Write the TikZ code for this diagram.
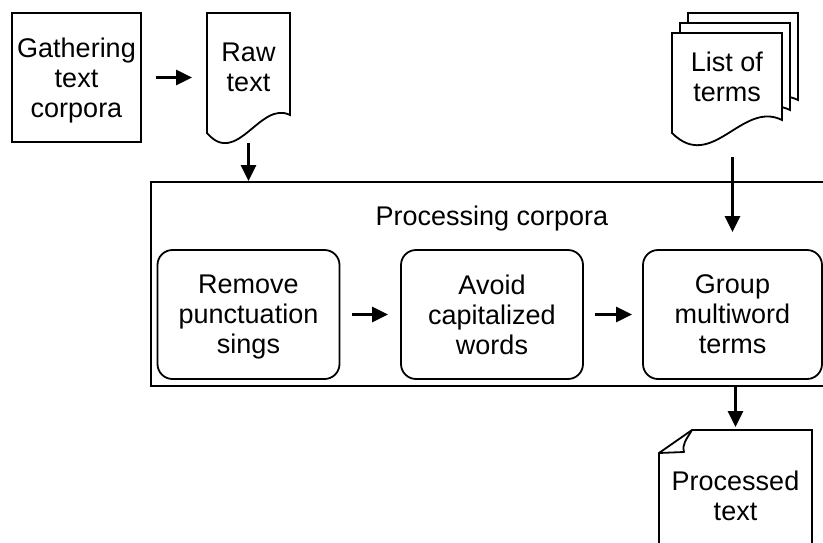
\documentclass[tikz,border=0pt]{standalone}
\usepackage{fontspec}
\setmainfont{Liberation Sans}
\usetikzlibrary{arrows.meta,calc,backgrounds}

\begin{document}
\begin{tikzpicture}[
        x=1pt, y=-1pt,
        font=\fontsize{27}{30}\selectfont,
        line width=1.8pt,
        plainbox/.style={rectangle, draw=black, minimum width=129pt, minimum height=129pt, text depth=0pt, align=center},
        stepbox/.style={rectangle, draw=black, rounded corners=15pt, minimum width=182pt, minimum height=129pt, text depth=0pt, align=center},
        docnode/.style={rectangle, inner sep=0pt, outer sep=0pt, align=center},
        docline/.style={draw=black, fill=white, line width=1.8pt},
        flow/.style={line width=2.8pt, -{Triangle[length=16pt,width=15pt]}},
    ]
        \useasboundingbox (0,0) rectangle (823,542);
        \clip (0,0) rectangle (823,542);

        %Nodes
        \node[plainbox] (gather) at (76.5,77.5) {Gathering\\text\\corpora};
        \node[docnode, minimum width=83pt, minimum height=108pt] (raw) at (248.5,67) {Raw\\text};
        \node[docnode, minimum width=110pt, minimum height=88pt] (terms) at (727,77) {List of\\terms};

        \node[rectangle, draw=black, minimum width=700pt, minimum height=204pt] (proc) at (501,284) {};
        \node (proclbl) at (492,219) {Processing corpora};

        \node[stepbox] (remove) at (248.5,314.5) {Remove\\punctuation\\sings};
        \node[stepbox] (avoid) at (492,314.5) {Avoid\\capitalized\\words};
        \node[stepbox, minimum width=179pt] (group) at (732.5,314.5) {Group\\multiword\\terms};

        \node[docnode, minimum width=153pt, minimum height=132pt] (procd) at (735.5,496) {Processed\\text};

        %Document shapes
        \begin{scope}[on background layer]
            \draw[docline] (raw.north west) -- ++(83,0) -- ++(0,102)
                .. controls +(-30,-15) and +(30,35) .. ++(-83,18) -- cycle;
            \foreach \s in {2,1,0}{
                \draw[docline] ([shift={(8*\s,-10*\s)}]terms.north west) -- ++(110,0) -- ++(0,87)
                    .. controls +(-40,-20) and +(40,40) .. ++(-110,13) -- cycle;
            }
        \end{scope}
        \draw (procd.south west) -- ++(0,-109) -- ++(33,-23) -- (procd.north east) -- (procd.south east) -- cycle;
        \draw[line join=round] ($(procd.north west)+(33,0)$) .. controls +(-6,10) and +(-2,-8) .. ++(-8,22) -- ++(-25,1);

        %Lines
        \draw[flow, shorten <=14pt, shorten >=15pt] (gather.east) -- (gather.east -| raw.west);
        \draw[flow, shorten <=22pt] (raw.south) -- (raw.south |- proc.north);
        \draw[flow, shorten <=36pt, shorten >=17pt] (terms.south -| group.north) -- (group.north);

        \draw[flow, shorten <=12pt, shorten >=12pt] (remove) -- (avoid);
        \draw[flow, shorten <=11pt, shorten >=10pt] (avoid) -- (group);

        \draw[flow, shorten >=3pt] (proc.south -| procd.north) -- (procd.north);
    \end{tikzpicture}
\end{document}
